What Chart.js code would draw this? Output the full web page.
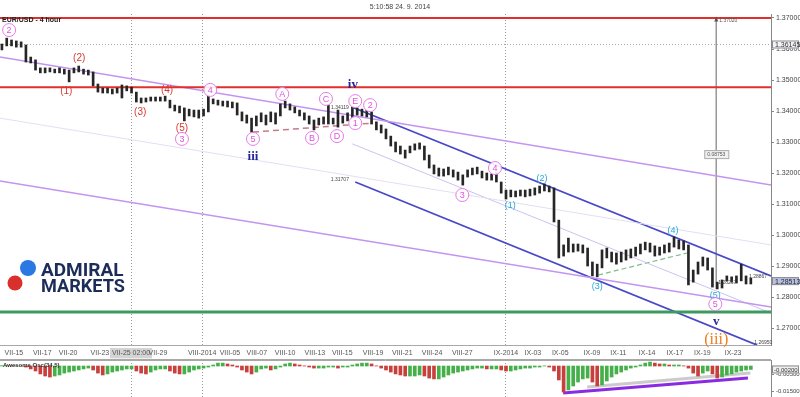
<!DOCTYPE html>
<html>
<head>
<meta charset="utf-8">
<script src="https://cdn.jsdelivr.net/npm/chart.js@4.4.1/dist/chart.umd.min.js"></script>
<style>
  html, body { margin: 0; padding: 0; background: #fff; }
  #wrap { position: relative; width: 800px; height: 397px; overflow: hidden; }
  #priceBox { position: absolute; left: 0; top: 0; width: 800px; height: 360px; }
  #oscBox { position: absolute; left: 0; top: 360px; width: 800px; height: 37px; }
</style>
</head>
<body>
<div id="wrap">
  <div id="priceBox"><canvas id="priceChart"></canvas></div>
  <div id="oscBox"><canvas id="oscChart"></canvas></div>
</div>
<script>
const barHigh = [
  1.3616, 1.3635, 1.3629, 1.3626, 1.3623, 1.3613, 1.3574, 1.3565, 1.3539, 1.3539,
  1.3539, 1.3535, 1.3539, 1.3535, 1.3532, 1.3539, 1.3545, 1.3535, 1.3532, 1.3526,
  1.3487, 1.3474, 1.3474, 1.3471, 1.3474, 1.3484, 1.3481, 1.3477, 1.3461, 1.3442,
  1.3442, 1.3445, 1.3445, 1.3445, 1.3448, 1.3435, 1.3419, 1.3416, 1.3410, 1.3406,
  1.3403, 1.3403, 1.3406, 1.3448, 1.3439, 1.3435, 1.3432, 1.3432, 1.3429, 1.3426,
  1.3397, 1.3387, 1.3377, 1.3384, 1.3394, 1.3387, 1.3397, 1.3394, 1.3423, 1.3432,
  1.3423, 1.3413, 1.3403, 1.3394, 1.3384, 1.3371, 1.3377, 1.3381, 1.3419, 1.3377,
  1.3403, 1.3384, 1.3394, 1.3413, 1.3410, 1.3406, 1.3403, 1.3397, 1.3365, 1.3355,
  1.3342, 1.3319, 1.3300, 1.3287, 1.3274, 1.3287, 1.3294, 1.3297, 1.3287, 1.3258,
  1.3226, 1.3216, 1.3213, 1.3219, 1.3210, 1.3203, 1.3194, 1.3210, 1.3216, 1.3219,
  1.3206, 1.3200, 1.3197, 1.3203, 1.3171, 1.3145, 1.3145, 1.3142, 1.3145, 1.3145,
  1.3148, 1.3152, 1.3158, 1.3165, 1.3158, 1.3152, 1.3048, 1.2968, 1.2990, 1.2971,
  1.2971, 1.2968, 1.2958, 1.2913, 1.2906, 1.2952, 1.2958, 1.2945, 1.2942, 1.2945,
  1.2952, 1.2955, 1.2961, 1.2971, 1.2977, 1.2974, 1.2965, 1.2961, 1.2968, 1.2974,
  1.2994, 1.2984, 1.2981, 1.2968, 1.2887, 1.2913, 1.2929, 1.2926, 1.2894, 1.2848,
  1.2855, 1.2868, 1.2865, 1.2868, 1.2906, 1.2868, 1.2861
];
const barLow = [
  1.3597, 1.3610, 1.3610, 1.3606, 1.3606, 1.3558, 1.3555, 1.3532, 1.3523, 1.3523,
  1.3526, 1.3523, 1.3523, 1.3519, 1.3494, 1.3523, 1.3526, 1.3519, 1.3516, 1.3481,
  1.3461, 1.3458, 1.3458, 1.3455, 1.3458, 1.3442, 1.3465, 1.3458, 1.3429, 1.3426,
  1.3429, 1.3432, 1.3432, 1.3432, 1.3432, 1.3410, 1.3400, 1.3394, 1.3368, 1.3384,
  1.3381, 1.3377, 1.3384, 1.3397, 1.3423, 1.3419, 1.3416, 1.3413, 1.3410, 1.3387,
  1.3368, 1.3361, 1.3332, 1.3352, 1.3365, 1.3355, 1.3365, 1.3358, 1.3384, 1.3410,
  1.3403, 1.3394, 1.3384, 1.3371, 1.3358, 1.3339, 1.3355, 1.3358, 1.3358, 1.3358,
  1.3348, 1.3361, 1.3368, 1.3377, 1.3387, 1.3384, 1.3381, 1.3358, 1.3339, 1.3329,
  1.3310, 1.3287, 1.3268, 1.3261, 1.3248, 1.3265, 1.3274, 1.3277, 1.3242, 1.3216,
  1.3197, 1.3190, 1.3190, 1.3194, 1.3187, 1.3177, 1.3161, 1.3187, 1.3194, 1.3197,
  1.3184, 1.3177, 1.3177, 1.3171, 1.3135, 1.3116, 1.3123, 1.3123, 1.3126, 1.3123,
  1.3126, 1.3129, 1.3135, 1.3142, 1.3139, 1.3042, 1.2926, 1.2932, 1.2945, 1.2945,
  1.2948, 1.2942, 1.2900, 1.2868, 1.2865, 1.2894, 1.2926, 1.2913, 1.2906, 1.2913,
  1.2919, 1.2926, 1.2932, 1.2939, 1.2952, 1.2945, 1.2932, 1.2935, 1.2942, 1.2945,
  1.2961, 1.2955, 1.2952, 1.2839, 1.2848, 1.2874, 1.2900, 1.2887, 1.2832, 1.2826,
  1.2829, 1.2852, 1.2848, 1.2845, 1.2852, 1.2842, 1.2842
];
// Awesome Oscillator (34,5), same samples
const aoValues = [
  0.0002, 0.0002, 0.0001, 0.0001, 0.0000, -0.0006, -0.0017, -0.0029, -0.0046, -0.0058,
  -0.0064, -0.0058, -0.0052, -0.0041, -0.0035, -0.0029, -0.0023, -0.0017, -0.0012, -0.0023,
  -0.0041, -0.0052, -0.0046, -0.0035, -0.0029, -0.0023, -0.0017, -0.0017, -0.0029, -0.0041,
  -0.0046, -0.0035, -0.0023, -0.0017, -0.0017, -0.0029, -0.0041, -0.0046, -0.0046, -0.0035,
  -0.0023, -0.0017, -0.0012, -0.0006, 0.0006, 0.0017, 0.0017, 0.0012, 0.0006, -0.0006,
  -0.0023, -0.0035, -0.0046, -0.0035, -0.0017, -0.0012, -0.0023, -0.0017, -0.0006, 0.0012,
  0.0017, 0.0012, 0.0006, 0.0001, -0.0006, -0.0012, -0.0012, -0.0012, -0.0006, -0.0006,
  -0.0012, -0.0006, -0.0006, 0.0006, 0.0012, 0.0017, 0.0017, 0.0012, 0.0001, -0.0012,
  -0.0023, -0.0035, -0.0046, -0.0052, -0.0058, -0.0058, -0.0058, -0.0052, -0.0058, -0.0070,
  -0.0075, -0.0075, -0.0064, -0.0052, -0.0041, -0.0035, -0.0029, -0.0023, -0.0017, -0.0012,
  -0.0012, -0.0017, -0.0017, -0.0017, -0.0023, -0.0029, -0.0029, -0.0023, -0.0017, -0.0012,
  -0.0012, -0.0006, -0.0006, 0.0001, -0.0006, -0.0029, -0.0081, -0.0151, -0.0139, -0.0116,
  -0.0093, -0.0075, -0.0070, -0.0093, -0.0116, -0.0110, -0.0087, -0.0064, -0.0046, -0.0035,
  -0.0023, -0.0012, -0.0006, 0.0006, 0.0017, 0.0023, 0.0017, 0.0012, 0.0012, 0.0006,
  0.0006, 0.0006, 0.0001, -0.0012, -0.0041, -0.0058, -0.0041, -0.0029, -0.0046, -0.0070,
  -0.0064, -0.0052, -0.0046, -0.0035, -0.0029, -0.0023, -0.0020
];

// time axis
const dateTicks = [2.5, 8.4, 13.8, 20.4, 26.9, 32.5, 41.7, 47.5, 53.1, 59.0, 65.2, 70.9, 77.3,
  83.4, 89.6, 95.9, 105.0, 110.6, 116.3, 122.9, 128.4, 134.4, 140.2, 145.9, 152.3];
const dateLabels = ['VII-15', 'VII-17', 'VII-20', 'VII-23', 'VII-25 02:00', 'VII-29', 'VIII-2014',
  'VIII-05', 'VIII-07', 'VIII-10', 'VIII-13', 'VIII-15', 'VIII-19', 'VIII-21', 'VIII-24', 'VIII-27',
  'IX-2014', 'IX-03', 'IX-05', 'IX-09', 'IX-11', 'IX-14', 'IX-17', 'IX-19', 'IX-23'];
const markedDates = ['VII-25 02:00', 'VIII-2014', 'IX-2014'];
const priceTicks = [1.27, 1.28, 1.29, 1.30, 1.31, 1.32, 1.33, 1.34, 1.35, 1.36, 1.37];
const aoTicks = [-0.015, -0.005];

// drawn levels and trend lines: [sample, price]
const redLevels = [1.3700, 1.3477];
const greenLevel = 1.2752;
const dottedLevel = 1.36145;
const lastPrice = 1.28513;
const upperPurple = [[-0.4, 1.3574], [160.2, 1.3161]];
const lowerPurple = [[-0.4, 1.3174], [160.2, 1.2768]];
const faintLine = [[-0.4, 1.3377], [160.2, 1.2968]];
const channelTop = [[73.0, 1.3412], [160.2, 1.2868]];
const channelMid = [[73.0, 1.3294], [160.2, 1.2748]];
const channelBottom = [[73.6, 1.3171], [157.3, 1.2645]];
const triangleBase = [[52.3, 1.3332], [77.3, 1.3361]];
const wave4Base = [[124.2, 1.2871], [142.7, 1.2942]];
const measureLine = [[148.8, 1.3702], [148.8, 1.2826]];
const aoTrend = [[116.9, -0.0157], [155.4, -0.0070]];
const aoShade = [[121.9, -0.0122], [155.9, -0.0041]];

// wave counts: [sample, price, text, kind]
const waveLabels = [
  [1.5, 1.3661, '2', 'pink'],
  [16.1, 1.3571, '(2)', 'red'],
  [13.4, 1.3465, '(1)', 'red'],
  [28.8, 1.3397, '(3)', 'red'],
  [34.4, 1.3468, '(4)', 'red'],
  [37.5, 1.3345, '(5)', 'red'],
  [37.5, 1.3310, '3', 'pink'],
  [43.4, 1.3468, '4', 'pink'],
  [52.3, 1.3310, '5', 'pink'],
  [52.3, 1.3252, 'iii', 'navy'],
  [58.4, 1.3455, 'A', 'pink'],
  [64.6, 1.3313, 'B', 'pink'],
  [67.5, 1.3439, 'C', 'pink'],
  [69.8, 1.3319, 'D', 'pink'],
  [73.6, 1.3432, 'E', 'pink'],
  [73.6, 1.3361, '1', 'pink'],
  [76.7, 1.3419, '2', 'pink'],
  [73.1, 1.3485, 'iv', 'navy'],
  [95.9, 1.3129, '3', 'pink'],
  [102.7, 1.3216, '4', 'pink'],
  [105.9, 1.3094, '(1)', 'cyan'],
  [112.5, 1.3181, '(2)', 'cyan'],
  [124.0, 1.2835, '(3)', 'cyan'],
  [139.8, 1.3016, '(4)', 'cyan'],
  [148.6, 1.2806, '(5)', 'cyan'],
  [148.6, 1.2777, '5', 'pink'],
  [148.8, 1.2719, 'v', 'navy'],
  [148.8, 1.2661, '(iii)', 'orange']
];
const priceNotes = [
  [70.4, 1.3410, '1.34119'],
  [70.4, 1.3178, '1.31707'],
  [157.5, 1.2865, '1.28867'],
  [151.1, 1.2845, '1.28267'],
  [158.6, 1.2652, '1.26950']
];

const labelStyle = {
  red: { color: '#d8392f', font: '10px "Liberation Sans"' },
  cyan: { color: '#27a9d6', font: '9px "Liberation Sans"' },
  navy: { color: '#25259c', font: 'bold 13px "Liberation Serif"' },
  orange: { color: '#ec7d1c', font: '16px "Liberation Serif"' }
};

Chart.defaults.font.family = '"Liberation Sans", sans-serif';
Chart.defaults.font.size = 7;
Chart.defaults.color = '#555';

function segment(points, color, width, dash) {
  return {
    type: 'line',
    data: points.map(([k, p]) => ({ x: k, y: p })),
    borderColor: color,
    borderWidth: width,
    borderDash: dash || [],
    pointRadius: 0,
    fill: false,
    order: 2
  };
}
function level(price, color, width, dash) {
  return segment([[-0.4, price], [160.2, price]], color, width, dash);
}

const gridColor = c => (c.type === 'tick' && markedDates.includes(dateLabels[c.index])) ? '#9a9a9a' : 'rgba(0,0,0,0)';
// keep the plot areas exactly where the reference has them
const noEdgePadding = s => { s.width = 29; s.paddingTop = 0; s.paddingBottom = 0; };

const priceOverlay = {
  id: 'priceOverlay',
  afterDatasetsDraw(chart) {
    const { ctx, scales: { x, y } } = chart;
    const px = v => x.getPixelForValue(v);
    const py = v => y.getPixelForValue(v);
    ctx.save();
    ctx.textAlign = 'center';
    ctx.textBaseline = 'middle';

    // wave counts
    for (const [k, p, text, kind] of waveLabels) {
      const cx = px(k), cy = py(p);
      if (kind === 'pink') {
        ctx.beginPath();
        ctx.arc(cx, cy, 6.5, 0, Math.PI * 2);
        ctx.fillStyle = 'rgba(255,255,255,0.9)';
        ctx.fill();
        ctx.strokeStyle = '#e57be5';
        ctx.lineWidth = 1;
        ctx.stroke();
        ctx.fillStyle = '#dd55dd';
        ctx.font = '9px "Liberation Sans"';
        ctx.fillText(text, cx, cy + 0.5);
      } else {
        ctx.fillStyle = labelStyle[kind].color;
        ctx.font = labelStyle[kind].font;
        ctx.fillText(text, cx, cy);
      }
    }

    // small price notes
    ctx.font = '5px "Liberation Sans"';
    ctx.fillStyle = '#444';
    for (const [k, p, text] of priceNotes) ctx.fillText(text, px(k), py(p));

    // measuring tool
    const mx = px(measureLine[0][0]);
    const top = py(measureLine[0][1]);
    ctx.fillStyle = '#555';
    ctx.beginPath();
    ctx.moveTo(mx, top - 1); ctx.lineTo(mx - 2, top + 4); ctx.lineTo(mx + 2, top + 4); ctx.closePath();
    ctx.fill();
    ctx.font = '5px "Liberation Sans"';
    ctx.textAlign = 'left';
    ctx.fillText('1.37020', mx + 3, top + 3);
    const midY = py(1.3261);
    ctx.fillStyle = '#f0f0f0';
    ctx.fillRect(mx - 12, midY - 4, 24, 8);
    ctx.strokeStyle = '#aaa';
    ctx.strokeRect(mx - 12 + 0.5, midY - 4 + 0.5, 24, 8);
    ctx.fillStyle = '#555';
    ctx.textAlign = 'center';
    ctx.fillText('0.08753', mx, midY + 0.5);

    // price tags on the axis
    const ax = chart.chartArea.right;
    const tag = (p, text, fill, ink) => {
      const ty = py(p);
      ctx.fillStyle = fill;
      ctx.fillRect(ax + 1, ty - 4, 27, 8);
      ctx.strokeStyle = '#8a8a9a';
      ctx.strokeRect(ax + 1.5, ty - 3.5, 26, 7);
      ctx.fillStyle = ink;
      ctx.font = '7px "Liberation Sans"';
      ctx.textAlign = 'left';
      ctx.fillText(text, ax + 4, ty + 0.5);
    };
    tag(dottedLevel, '1.36145', '#f4f4f4', '#333');
    tag(lastPrice, '1.28513', '#b9c2d8', '#1d2440');
    ctx.restore();
  },
  afterDraw(chart) {
    const ctx = chart.ctx;
    ctx.save();
    ctx.textBaseline = 'middle';
    ctx.textAlign = 'center';
    ctx.fillStyle = '#444';
    ctx.font = '7px "Liberation Sans"';
    ctx.fillText('5:10:58 24. 9. 2014', 400, 7);
    ctx.textAlign = 'left';
    ctx.fillStyle = '#222';
    ctx.font = 'bold 7px "Liberation Sans"';
    ctx.fillText('EUR/USD - 4 hour', 2, 20);

    // Admiral Markets logo
    ctx.beginPath();
    ctx.arc(28, 268, 8, 0, Math.PI * 2);
    ctx.fillStyle = '#2a78e4';
    ctx.fill();
    ctx.beginPath();
    ctx.arc(15, 283, 7.5, 0, Math.PI * 2);
    ctx.fillStyle = '#d9302c';
    ctx.fill();
    ctx.fillStyle = '#1c2d5a';
    ctx.font = 'bold 19px Roboto';
    ctx.textBaseline = 'alphabetic';
    ctx.fillText('ADMIRAL', 41, 276, 83);
    ctx.fillText('MARKETS', 41, 292, 84);

    // bottom edge of the date strip
    ctx.strokeStyle = '#a8a8a8';
    ctx.lineWidth = 1;
    ctx.beginPath();
    ctx.moveTo(0, chart.height - 0.5);
    ctx.lineTo(chart.chartArea.right, chart.height - 0.5);
    ctx.stroke();
    ctx.restore();
  }
};

const priceChart = new Chart(document.getElementById('priceChart'), {
  type: 'bar',
  data: {
    datasets: [
      {
        type: 'bar',
        data: barHigh.map((h, i) => ({ x: i, y: [barLow[i], h] })),
        backgroundColor: '#262626',
        barThickness: 2,
        order: 0
      },
      level(redLevels[0], '#e0302c', 2),
      level(redLevels[1], '#e0302c', 2),
      level(greenLevel, '#3c9a5f', 3),
      level(dottedLevel, '#aaaaaa', 1, [1, 2]),
      segment(faintLine, '#e3dff0', 1),
      segment(upperPurple, '#c394f0', 1.5),
      segment(lowerPurple, '#c394f0', 1.5),
      segment(channelMid, '#cbc2f0', 1),
      segment(channelTop, '#4848c8', 1.8),
      segment(channelBottom, '#4848c8', 1.8),
      segment(triangleBase, '#c57b8a', 1.5, [6, 4]),
      segment(wave4Base, '#7dbd8c', 1.2, [5, 3]),
      segment(measureLine, '#9a9a9a', 1)
    ]
  },
  options: {
    responsive: true,
    maintainAspectRatio: false,
    animation: false,
    events: [],
    layout: { padding: { top: 14, left: 0, right: 0, bottom: 0 } },
    plugins: { legend: { display: false }, tooltip: { enabled: false } },
    scales: {
      x: {
        type: 'linear',
        min: -0.4,
        max: 160.2,
        offset: false,
        afterBuildTicks: s => { s.ticks = dateTicks.map(v => ({ value: v })); },
        afterFit: s => { s.height = 15; s.paddingLeft = 0; s.paddingRight = 0; },
        ticks: {
          autoSkip: false,
          maxRotation: 0,
          padding: 4,
          color: '#555',
          callback: (v, i) => dateLabels[i],
          showLabelBackdrop: c => dateLabels[c.index] === 'VII-25 02:00',
          backdropColor: '#d4d4d4',
          backdropPadding: { x: 2, y: 1 }
        },
        grid: { color: gridColor, drawTicks: false, offset: false },
        border: { display: true, color: '#a8a8a8', dash: [1, 2] }
      },
      y: {
        position: 'right',
        min: 1.26452,
        max: 1.37129,
        afterBuildTicks: s => { s.ticks = priceTicks.map(v => ({ value: v })); },
        afterFit: noEdgePadding,
        ticks: { padding: 2, color: '#444', callback: v => v.toFixed(5) },
        grid: { drawOnChartArea: false, tickLength: 3, tickColor: '#888' },
        border: { color: '#888' }
      }
    }
  },
  plugins: [priceOverlay]
});

const oscOverlay = {
  id: 'oscOverlay',
  afterDraw(chart) {
    const { ctx, scales: { y }, chartArea } = chart;
    ctx.save();
    ctx.strokeStyle = '#a8a8a8';
    ctx.beginPath();
    ctx.moveTo(0, 0.5);
    ctx.lineTo(chartArea.right, 0.5);
    ctx.stroke();
    ctx.fillStyle = '#333';
    ctx.font = 'bold 6px "Liberation Sans"';
    ctx.textBaseline = 'middle';
    ctx.fillText('Awesome Osc(34,5)', 3, 5);
    const last = aoValues[aoValues.length - 1];
    const ty = y.getPixelForValue(last);
    ctx.fillStyle = '#eeeeee';
    ctx.fillRect(chartArea.right + 1, ty - 4, 27, 8);
    ctx.strokeStyle = '#8a8a8a';
    ctx.strokeRect(chartArea.right + 1.5, ty - 3.5, 26, 7);
    ctx.fillStyle = '#333';
    ctx.font = '6px "Liberation Sans"';
    ctx.fillText(last.toFixed(5), chartArea.right + 3, ty + 0.5);
    ctx.restore();
  }
};

const oscChart = new Chart(document.getElementById('oscChart'), {
  type: 'bar',
  data: {
    datasets: [
      {
        type: 'bar',
        data: aoValues.map((v, i) => ({ x: i, y: v })),
        backgroundColor: c => (c.dataIndex > 0 && aoValues[c.dataIndex] < aoValues[c.dataIndex - 1]) ? '#c8403e' : '#45b04a',
        barThickness: 3,
        order: 0
      },
      Object.assign(segment(aoShade, 'rgba(160,160,160,0.55)', 3), { order: 1 }),
      Object.assign(segment(aoTrend, '#8a2be2', 3), { order: 0 })
    ]
  },
  options: {
    responsive: true,
    maintainAspectRatio: false,
    animation: false,
    events: [],
    layout: { padding: 0 },
    plugins: { legend: { display: false }, tooltip: { enabled: false } },
    scales: {
      x: {
        type: 'linear',
        min: -0.4,
        max: 160.2,
        offset: false,
        afterBuildTicks: s => { s.ticks = dateTicks.map(v => ({ value: v })); },
        afterFit: s => { s.height = 0; s.paddingLeft = 0; s.paddingRight = 0; },
        ticks: { display: false },
        grid: { color: gridColor, drawTicks: false, offset: false },
        border: { display: false, dash: [1, 2] }
      },
      y: {
        position: 'right',
        min: -0.0180,
        max: 0.0035,
        afterBuildTicks: s => { s.ticks = aoTicks.map(v => ({ value: v })); },
        afterFit: noEdgePadding,
        ticks: { padding: 2, color: '#444', font: { size: 6 }, callback: v => v.toFixed(5) },
        grid: { drawOnChartArea: false, tickLength: 3, tickColor: '#888' },
        border: { color: '#888' }
      }
    }
  },
  plugins: [oscOverlay]
});
</script>
</body>
</html>
